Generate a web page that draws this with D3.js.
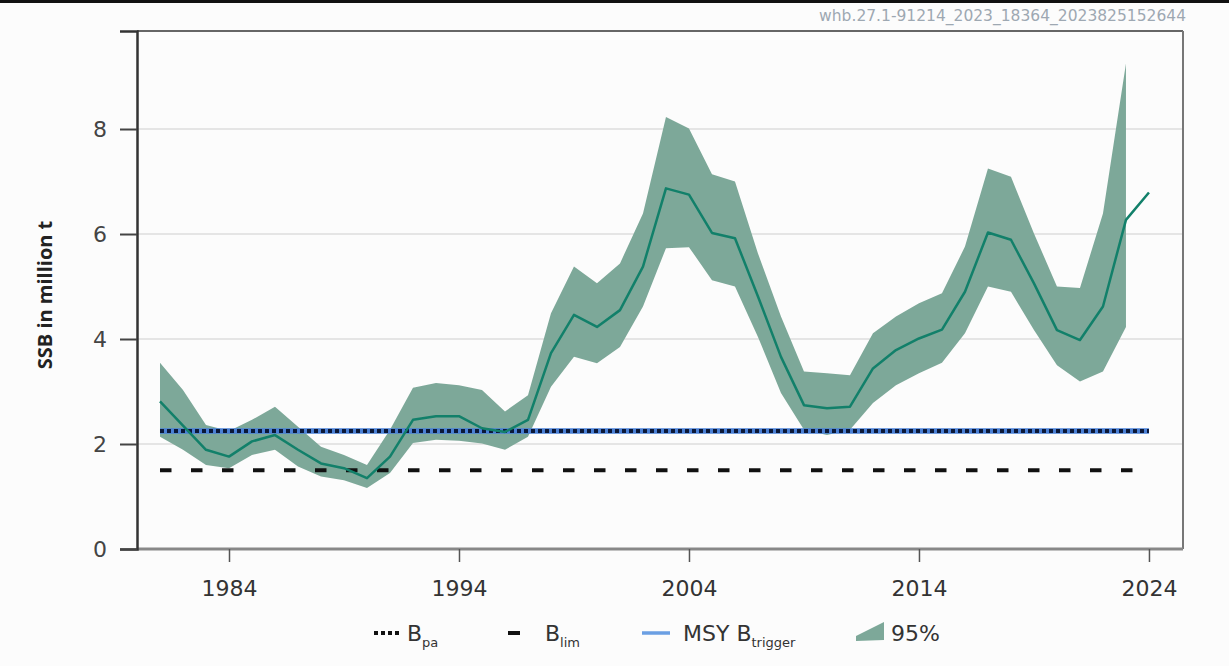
<!DOCTYPE html>
<html>
<head>
<meta charset="utf-8">
<script src="https://cdn.jsdelivr.net/npm/d3@7/dist/d3.min.js"></script>
<style>
  html, body { margin: 0; padding: 0; background: #fcfcfc; }
  svg { display: block; }
</style>
</head>
<body>
<svg id="chart" width="1229" height="666"></svg>
<script>
// ---- data ----
const years = d3.range(1981, 2024); // 1981..2023
const ssb = [2.81, 2.35, 1.89, 1.76, 2.05, 2.17, 1.89, 1.63, 1.54, 1.35, 1.76, 2.46, 2.53, 2.53,
             2.30, 2.23, 2.46, 3.73, 4.46, 4.23, 4.55, 5.38, 6.87, 6.75, 6.02,
             5.92, 4.81, 3.66, 2.74, 2.68, 2.71, 3.44, 3.79, 4.01, 4.18,
             4.90, 6.03, 5.89, 5.06, 4.17, 3.98, 4.62, 6.27];
const ssbForecastYear = 2024;
const ssbForecast = 6.79;
const high = [3.55, 3.03, 2.36, 2.25, 2.46, 2.71, 2.33, 1.95, 1.79, 1.60, 2.27, 3.07, 3.16, 3.12,
              3.03, 2.62, 2.93, 4.49, 5.38, 5.06, 5.44, 6.39, 8.23, 8.01, 7.14,
              7.00, 5.63, 4.43, 3.38, 3.35, 3.31, 4.11, 4.43, 4.68, 4.87,
              5.76, 7.25, 7.09, 6.01, 5.00, 4.97, 6.39, 9.25];
const low = [2.14, 1.89, 1.60, 1.54, 1.79, 1.89, 1.57, 1.38, 1.31, 1.16, 1.45, 2.02, 2.08, 2.06,
             2.01, 1.89, 2.14, 3.09, 3.66, 3.54, 3.85, 4.62, 5.73, 5.75, 5.12,
             5.00, 4.04, 2.97, 2.27, 2.17, 2.27, 2.78, 3.12, 3.35, 3.55,
             4.11, 5.00, 4.90, 4.17, 3.50, 3.19, 3.38, 4.23];
const Bpa = 2.25;
const Blim = 1.5;
const MSYBtrigger = 2.25;
const refYears = [1981, 2024];
const xTicks = [1984, 1994, 2004, 2014, 2024];
const yTicks = [0, 2, 4, 6, 8];
const stamp = "whb.27.1-91214_2023_18364_2023825152644";

// ---- layout ----
const svg = d3.select("#chart");
const L = 137, R = 1183, T = 31, B = 549;
const x = d3.scaleLinear().domain([1980, 2025.48]).range([L, R]);
const y = d3.scaleLinear().domain([0, 9.867]).range([B, T]);

// top black rule
svg.append("line").attr("x1", 0).attr("x2", 1229).attr("y1", 1.5).attr("y2", 1.5)
  .attr("stroke", "#111").attr("stroke-width", 3);

svg.append("text").attr("x", 1186).attr("y", 21).attr("text-anchor", "end")
  .attr("font-family", "DejaVu Sans").attr("font-size", 15.5).attr("fill", "#9ea8b2")
  .text(stamp);

// gridlines
svg.append("g").selectAll("line").data(yTicks.filter(d => d > 0)).join("line")
  .attr("x1", L).attr("x2", R).attr("y1", d => y(d)).attr("y2", d => y(d))
  .attr("stroke", "#dedede").attr("stroke-width", 1.5);

// band
const band = years.map((yr, i) => ({yr, lo: low[i], hi: high[i]}));
svg.append("path").datum(band)
  .attr("d", d3.area().x(d => x(d.yr)).y0(d => y(d.lo)).y1(d => y(d.hi)))
  .attr("fill", "#7da899");

// reference lines
svg.append("line").attr("x1", x(refYears[0])).attr("x2", x(refYears[1]))
  .attr("y1", y(MSYBtrigger)).attr("y2", y(MSYBtrigger))
  .attr("stroke", "#4a80d6").attr("stroke-width", 5.5);
svg.append("line").attr("x1", x(refYears[0])).attr("x2", x(refYears[1]))
  .attr("y1", y(Bpa)).attr("y2", y(Bpa))
  .attr("stroke", "#0b1838").attr("stroke-width", 4).attr("stroke-dasharray", "4,3");
svg.append("line").attr("x1", x(refYears[0])).attr("x2", x(refYears[1]))
  .attr("y1", y(Blim)).attr("y2", y(Blim))
  .attr("stroke", "#111").attr("stroke-width", 4).attr("stroke-dasharray", "11.5,19.5");

// SSB line
const linePts = years.map((yr, i) => ({yr, v: ssb[i]}));
linePts.push({yr: ssbForecastYear, v: ssbForecast});
svg.append("path").datum(linePts)
  .attr("d", d3.line().x(d => x(d.yr)).y(d => y(d.v)))
  .attr("fill", "none").attr("stroke", "#12806a").attr("stroke-width", 2.5)
  .attr("stroke-linejoin", "round");

// frame
svg.append("line").attr("x1", L).attr("x2", R).attr("y1", T).attr("y2", T).attr("stroke", "#666").attr("stroke-width", 2);
svg.append("line").attr("x1", R).attr("x2", R).attr("y1", T).attr("y2", B).attr("stroke", "#777").attr("stroke-width", 2);
svg.append("line").attr("x1", L).attr("x2", R).attr("y1", B).attr("y2", B).attr("stroke", "#888").attr("stroke-width", 3);

// y axis
const yAxis = d3.axisLeft(y).tickValues(yTicks).tickSize(17).tickPadding(13);
const gy = svg.append("g").attr("transform", `translate(${L},0)`).call(yAxis);
gy.select(".domain").attr("stroke", "#333").attr("stroke-width", 2.5);
gy.selectAll(".tick line").attr("stroke", "#444").attr("stroke-width", 2);
gy.selectAll(".tick text").attr("font-family", "DejaVu Sans").attr("font-size", 22).attr("fill", "#444");

// x axis
const xAxis = d3.axisBottom(x).tickValues(xTicks).tickFormat(d3.format("d")).tickSize(13).tickPadding(18);
const gx = svg.append("g").attr("transform", `translate(0,${B})`).call(xAxis);
gx.select(".domain").remove();
gx.selectAll(".tick line").attr("stroke", "#555").attr("stroke-width", 1.5);
gx.selectAll(".tick text").attr("font-family", "DejaVu Sans").attr("font-size", 22).attr("fill", "#333");

// y title
svg.append("text").attr("transform", `translate(52,${(T + B) / 2 + 5}) rotate(-90)`)
  .attr("text-anchor", "middle").attr("font-family", "Open Sans").attr("font-weight", "bold")
  .attr("font-size", 20).attr("fill", "#222").text("SSB in million t");

// legend
const LY = 633;
const lg = svg.append("g").attr("font-family", "DejaVu Sans").attr("font-size", 22).attr("fill", "#333");
lg.append("line").attr("x1", 374).attr("x2", 401).attr("y1", LY).attr("y2", LY)
  .attr("stroke", "#111").attr("stroke-width", 4).attr("stroke-dasharray", "4,3");
let t = lg.append("text").attr("x", 407).attr("y", LY + 8);
t.append("tspan").text("B");
t.append("tspan").attr("font-size", 13).attr("dy", 6).text("pa");

lg.append("line").attr("x1", 508).attr("x2", 520).attr("y1", LY).attr("y2", LY)
  .attr("stroke", "#111").attr("stroke-width", 4);
t = lg.append("text").attr("x", 545).attr("y", LY + 8);
t.append("tspan").text("B");
t.append("tspan").attr("font-size", 13).attr("dy", 6).text("lim");

lg.append("line").attr("x1", 642).attr("x2", 670).attr("y1", LY).attr("y2", LY)
  .attr("stroke", "#6b9fe3").attr("stroke-width", 3.5);
t = lg.append("text").attr("x", 683).attr("y", LY + 8);
t.append("tspan").text("MSY B");
t.append("tspan").attr("font-size", 13).attr("dy", 6).text("trigger");

lg.append("path").attr("d", "M856,641 L856,636 L884,622 L884,640 Z").attr("fill", "#7da899");
lg.append("text").attr("x", 891).attr("y", LY + 8).text("95%");
</script>
</body>
</html>
